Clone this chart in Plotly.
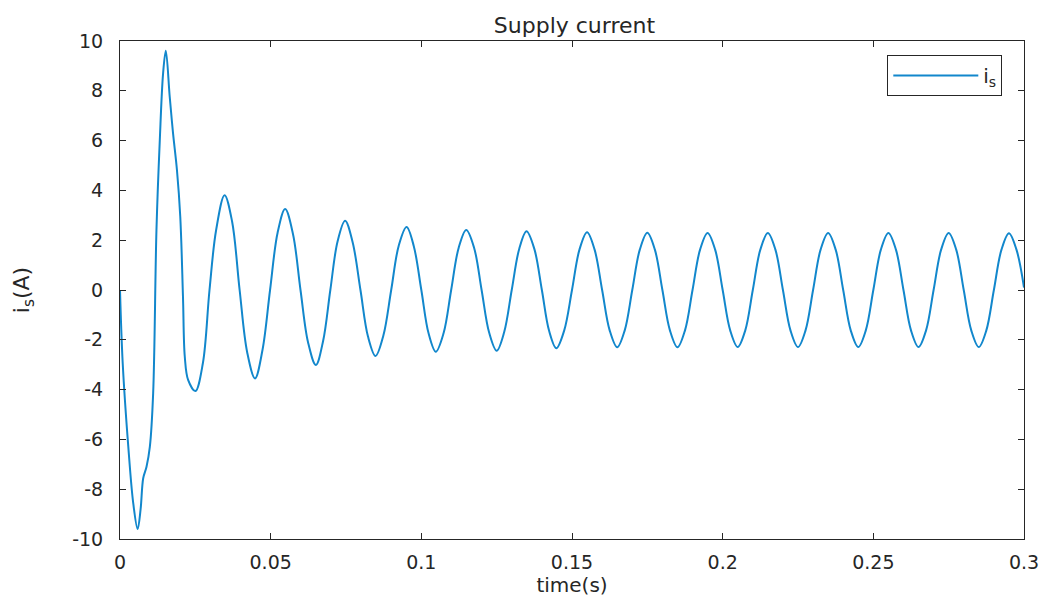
import plotly.graph_objects as go

# Time (s) and supply current (A)
time_s = [0.0, 0.0009, 0.00275, 0.0044, 0.00585, 0.00684, 0.0077, 0.0088, 0.0099, 0.011,
          0.0121, 0.0132, 0.0143, 0.0152, 0.0165, 0.0176, 0.0189, 0.0200, 0.0209, 0.0215,
          0.0226, 0.0250, 0.0275, 0.0297, 0.0319, 0.0347,
          0.0372, 0.0397, 0.0422, 0.0448, 0.0473, 0.0498, 0.0523, 0.0548, 0.0574, 0.0599,
          0.0624, 0.0650, 0.0674, 0.0698, 0.0722, 0.0747, 0.0772, 0.0798, 0.0823, 0.0848,
          0.0874, 0.0900, 0.0925, 0.0951, 0.0975, 0.1000, 0.1024, 0.1048, 0.1074, 0.1099,
          0.1124, 0.1149, 0.1175, 0.1200, 0.1225, 0.1250, 0.1275, 0.1300, 0.1325, 0.1349,
          0.1375, 0.1400, 0.1424, 0.1448, 0.1474, 0.1500, 0.1525, 0.1550, 0.1575, 0.1600,
          0.1625, 0.1650, 0.1675, 0.1700, 0.1725, 0.1750, 0.1775, 0.1800, 0.1825, 0.1850,
          0.1875, 0.1900, 0.1925, 0.1950, 0.1975, 0.2000, 0.2025, 0.2050, 0.2075, 0.2100,
          0.2125, 0.2150, 0.2175, 0.2200, 0.2225, 0.2250, 0.2275, 0.2300, 0.2325, 0.2350,
          0.2375, 0.2400, 0.2425, 0.2450, 0.2475, 0.2500, 0.2525, 0.2550, 0.2575, 0.2600,
          0.2625, 0.2650, 0.2675, 0.2700, 0.2725, 0.2750, 0.2775, 0.2800, 0.2825, 0.2850,
          0.2875, 0.2900, 0.2925, 0.2950, 0.2975, 0.3000]
current_a = [0.0, -2.94, -6.29, -8.57, -9.6, -8.8, -7.56, -7.1, -6.3, -4.15,
             2.41, 6.0, 8.7, 9.61, 7.76, 6.3, 4.82, 2.94, -0.27, -2.68,
             -3.61, -4.06, -2.94, 0.0, 2.41, 3.81,
             2.75, 0.0, -2.50, -3.55, -2.40, 0.0, 2.30, 3.25, 2.25, 0.0,
             -2.10, -3.01, -2.05, 0.0, 1.95, 2.78, 1.92, 0.0, -1.87, -2.65,
             -1.83, 0.0, 1.78, 2.53, 1.76, 0.0, -1.74, -2.48, -1.73, 0.0,
             1.70, 2.41, 1.70, 0.0, -1.71, -2.44, -1.69, 0.0, 1.66, 2.36,
             1.65, 0.0, -1.64, -2.34, -1.63, 0.0, 1.63, 2.32, 1.62, 0.0,
             -1.62, -2.30, -1.62, 0.0, 1.62, 2.30, 1.62, 0.0, -1.62, -2.30,
             -1.62, 0.0, 1.62, 2.29, 1.62, 0.0, -1.62, -2.29, -1.62, 0.0,
             1.62, 2.29, 1.62, 0.0, -1.62, -2.29, -1.62, 0.0, 1.62, 2.29,
             1.62, 0.0, -1.62, -2.29, -1.62, 0.0, 1.62, 2.29, 1.62, 0.0,
             -1.62, -2.29, -1.62, 0.0, 1.62, 2.29, 1.62, 0.0, -1.62, -2.29,
             -1.62, 0.0, 1.61, 2.28, 1.62, 0.1]

x_ticks = [0, 0.05, 0.1, 0.15, 0.2, 0.25, 0.3]
x_tick_labels = ["0", "0.05", "0.1", "0.15", "0.2", "0.25", "0.3"]
y_ticks = [-10, -8, -6, -4, -2, 0, 2, 4, 6, 8, 10]
y_tick_labels = ["-10", "-8", "-6", "-4", "-2", "0", "2", "4", "6", "8", "10"]

LINE = "#1287cc"
AX = "#262626"
FONT = "DejaVu Sans, Liberation Sans, Arial, sans-serif"

fig = go.Figure()
fig.add_trace(go.Scatter(
    x=time_s, y=current_a, mode="lines", name="i<sub>s</sub>",
    line=dict(color=LINE, width=2, shape="spline", smoothing=1.0),
))

axis_common = dict(
    showline=True, linecolor=AX, linewidth=1, mirror="ticks",
    ticks="inside", ticklen=6, tickcolor=AX, showgrid=False, zeroline=False,
    tickfont=dict(family=FONT, size=19, color=AX),
)

fig.update_layout(
    width=1051, height=601,
    margin=dict(l=120, r=23, t=41, b=62),
    paper_bgcolor="white", plot_bgcolor="white",
    font=dict(family=FONT, color=AX),
    title=dict(text="Supply current", x=0.5466, xanchor="center", y=0.958, yanchor="middle",
               font=dict(family=FONT, size=22, color=AX)),
    xaxis=dict(range=[0, 0.3], tickvals=x_ticks, ticktext=x_tick_labels,
               title=dict(text="time(s)", font=dict(family=FONT, size=20, color=AX), standoff=2),
               ticklabelstandoff=6, **axis_common),
    yaxis=dict(range=[-10, 10], tickvals=y_ticks, ticktext=y_tick_labels,
               title=dict(text="i<sub>s</sub>(A)", font=dict(family=FONT, size=22, color=AX), standoff=36),
               ticklabelstandoff=12, **axis_common),
    showlegend=True,
    legend=dict(x=0.976, y=0.972, xanchor="right", yanchor="top",
                bordercolor=AX, borderwidth=1, bgcolor="white",
                itemwidth=85, font=dict(family=FONT, size=20, color=AX)),
)

fig.write_html("out.html")
